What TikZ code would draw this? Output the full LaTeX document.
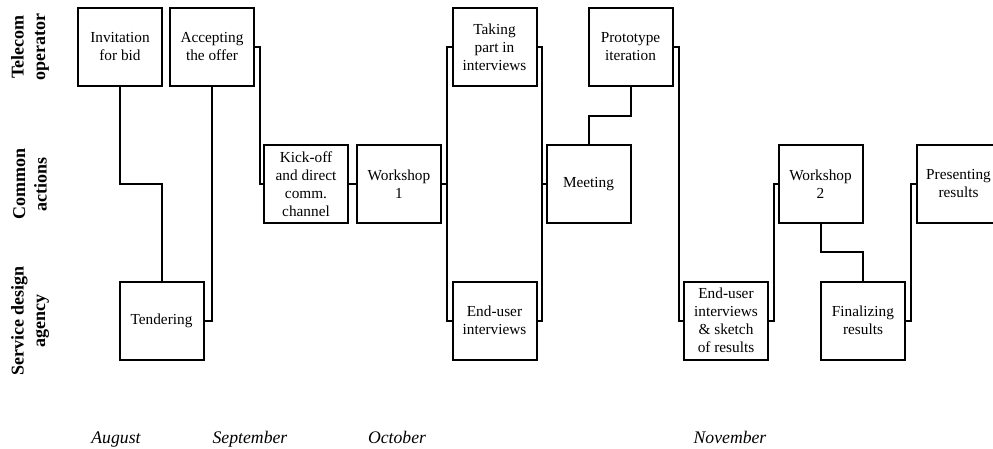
\documentclass[tikz,border=0pt]{standalone}
\usepackage{fontspec}
\setmainfont{Liberation Serif}
\usetikzlibrary{calc}
\tikzset{
  box/.style={draw, line width=2pt, minimum width=84pt, minimum height=78pt, align=center, inner sep=2pt, font=\fontsize{15.3}{18}\selectfont},
  conn/.style={line width=2pt},
  lane/.style={rotate=90, align=center, font=\fontsize{18}{21.5}\selectfont\bfseries},
  month/.style={anchor=base, font=\fontsize{17.7}{20}\selectfont\itshape},
}
\begin{document}
\begin{tikzpicture}[x=1pt,y=-1pt]
\useasboundingbox (0,0) rectangle (993,448);
\clip (0,0) rectangle (993,448);

% lane labels
\node[lane] (l1) at (30,47) {Telecom\\operator};
\node[lane] (l2) at (30,184) {Common\\actions};
\node[lane] (l3) at (30,321) {Service design\\agency};

% months
\node[month] (m1) at (116,443) {August};
\node[month] (m2) at (250,443) {September};
\node[month] (m3) at (397,443) {October};
\node[month] (m4) at (730,443) {November};

% top row
\node[box] (inv) at (120,47) {Invitation\\for bid};
\node[box] (acc) at (212,47) {Accepting\\the offer};
\node[box] (take) at (494.5,47) {Taking\\part in\\interviews};
\node[box] (proto) at (630.5,47) {Prototype\\iteration};

% middle row
\node[box] (kick) at (306,184) {Kick-off\\and direct\\comm.\\channel};
\node[box] (ws1) at (399,184) {Workshop\\1};
\node[box] (meet) at (588.5,184) {Meeting};
\node[box] (ws2) at (820.5,184) {Workshop\\2};
\node[box] (pres) at (958.5,184) {Presenting\\results};

% bottom row
\node[box] (tend) at (161.5,320.5) {Tendering};
\node[box] (eui) at (494.5,320.5) {End-user\\interviews};
\node[box] (sketch) at (726,320.5) {End-user\\interviews\\\& sketch\\of results};
\node[box] (fin) at (863,320.5) {Finalizing\\results};

% connectors
\draw[conn] (inv.south) |- ($(inv.south)!0.5!(tend.north)$) -| (tend.north);
\draw[conn] (acc.south) |- (tend.east);
\draw[conn] (acc.east) -- ++(4.5,0) |- (kick.west);
\draw[conn] (kick) -- (ws1);

\coordinate (v1) at ($(take.west)+(-5,0)$);
\draw[conn] (take.west) -- (v1) |- (eui.west);
\draw[conn] (ws1.east) -- (ws1.east -| v1);

\coordinate (v2) at ($(take.east)+(4.5,0)$);
\draw[conn] (take.east) -- (v2) |- (eui.east);
\draw[conn] (meet.west) -- (meet.west -| v2);

\draw[conn] (meet.north) |- ($(meet.north)!0.5!(proto.south)$) -| (proto.south);
\draw[conn] (proto.east) -- ++(5,0) |- (sketch.west);
\draw[conn] (sketch.east) -- ++(4.5,0) |- (ws2.west);
\draw[conn] (ws2.south) |- ($(ws2.south)!0.5!(fin.north)$) -| (fin.north);
\draw[conn] (fin.east) -- ++(5,0) |- (pres.west);
\end{tikzpicture}
\end{document}
